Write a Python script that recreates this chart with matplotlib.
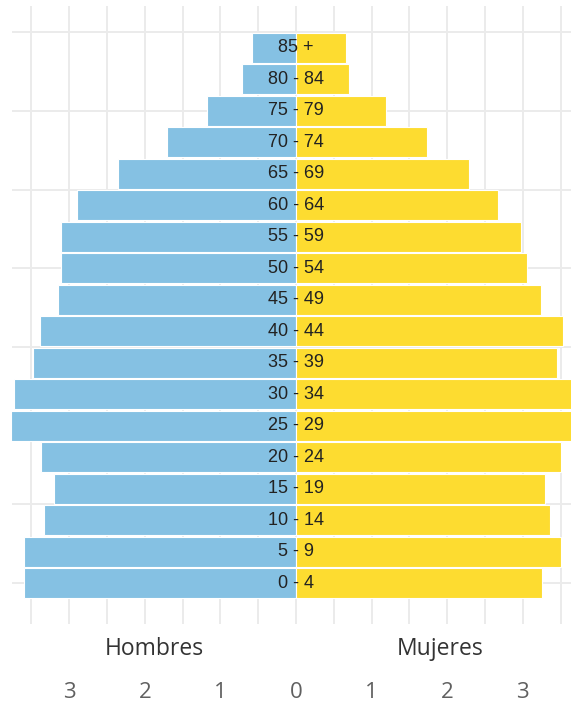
import matplotlib
matplotlib.use("Agg")
import numpy as np
import matplotlib.pyplot as plt

# Datos: piramide de poblacion (porcentaje)
grupos = ["0 - 4", "5 - 9", "10 - 14", "15 - 19", "20 - 24", "25 - 29", "30 - 34",
          "35 - 39", "40 - 44", "45 - 49", "50 - 54", "55 - 59", "60 - 64",
          "65 - 69", "70 - 74", "75 - 79", "80 - 84", "85 +"]
hombres = [3.60, 3.60, 3.33, 3.20, 3.37, 3.77, 3.73, 3.48, 3.39, 3.15, 3.11, 3.11,
           2.90, 2.35, 1.71, 1.18, 0.71, 0.58]
mujeres = [3.25, 3.51, 3.36, 3.29, 3.51, 3.75, 3.72, 3.45, 3.53, 3.24, 3.06, 2.98,
           2.67, 2.29, 1.73, 1.19, 0.70, 0.66]
ticks_x = [-3, -2, -1, 0, 1, 2, 3]
etiquetas_x = ["3", "2", "1", "0", "1", "2", "3"]

azul = "#85c1e3"
amarillo = "#fddc30"

fig = plt.figure(figsize=(5.71, 7.04), dpi=100)
ax = fig.add_axes([12 / 571, 80 / 704, 568 / 571, 618 / 704])

y = np.arange(len(grupos))
ax.barh(y, [-h for h in hombres], height=0.95, color=azul, edgecolor="white", linewidth=0.8, zorder=2)
ax.barh(y, mujeres, height=0.95, color=amarillo, edgecolor="white", linewidth=0.8, zorder=2)

for yi, g in zip(y, grupos):
    ax.text(0, yi, g, ha="center", va="center", fontsize=13, color="#222222",
            family="Liberation Sans", zorder=3)

ax.set_xlim(-3.757, 3.757)
ax.set_ylim(-1.3, 18.33)

# Rejilla
ax.set_xticks(np.arange(-3.5, 3.51, 0.5), minor=True)
ax.set_yticks(np.arange(0, 17.6, 2.5))
ax.set_yticklabels([])
ax.grid(True, which="both", axis="x", color="#ebebeb", linewidth=1.4, zorder=0)
ax.grid(True, which="major", axis="y", color="#ebebeb", linewidth=1.4, zorder=0)
ax.set_axisbelow(True)

ax.set_xticks(ticks_x)
ax.set_xticklabels(etiquetas_x, family="Open Sans", fontsize=16, color="#606060")
ax.tick_params(axis="both", which="both", length=0)
ax.tick_params(axis="x", pad=42)
for s in ax.spines.values():
    s.set_visible(False)

ax.text(-1.87, -0.040, "Hombres", transform=ax.get_xaxis_transform(), ha="center", va="center",
        family="Open Sans", fontsize=16.5, color="#333333")
ax.text(1.90, -0.040, "Mujeres", transform=ax.get_xaxis_transform(), ha="center", va="center",
        family="Open Sans", fontsize=16.5, color="#333333")

fig.savefig("out.png", dpi=100)
